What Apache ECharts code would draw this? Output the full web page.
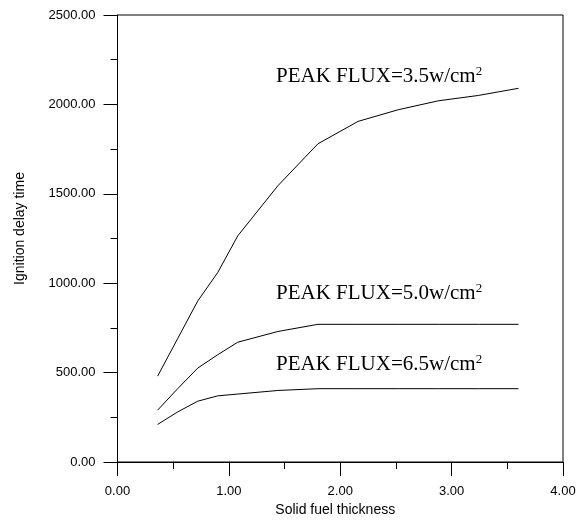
<!DOCTYPE html>
<html>
<head>
<meta charset="utf-8">
<script src="https://cdn.jsdelivr.net/npm/echarts@6/dist/echarts.min.js"></script>
<style>
html,body{margin:0;padding:0;background:#fff;}
#chart{width:579px;height:524px;}
</style>
</head>
<body>
<div id="chart"></div>
<script>
var thickness = [0.36, 0.54, 0.72, 0.90, 1.08, 1.44, 1.80, 2.16, 2.52, 2.88, 3.24, 3.60];
var flux35 = [480, 690, 900, 1060, 1265, 1545, 1780, 1905, 1970, 2020, 2050, 2090];
var flux50 = [290, 410, 525, 600, 670, 730, 770, 770, 770, 770, 770, 770];
var flux65 = [210, 280, 340, 370, 380, 400, 410, 410, 410, 410, 410, 410];
var seriesNames = ['PEAK FLUX=3.5w/cm', 'PEAK FLUX=5.0w/cm', 'PEAK FLUX=6.5w/cm'];
var xTitle = 'Solid fuel thickness';
var yTitle = 'Ignition delay time';

function pairs(ys){ return thickness.map(function(x,i){ return [x, ys[i]]; }); }

var chart = echarts.init(document.getElementById('chart'), null, {renderer:'canvas'});
var axisFont = {color:'#000', fontFamily:'Liberation Sans, Arial, sans-serif', fontSize:13};
function lineSeries(name, ys){
  return {name:name, type:'line', data:pairs(ys), showSymbol:false, symbol:'none',
    lineStyle:{color:'#000', width:1}, itemStyle:{color:'#000'}, animation:false};
}
function labelText(name, x, y){
  return {type:'text', left:x, top:y, style:{
    text:'{b|' + name + '}{s|2}',
    rich:{
      b:{fontFamily:'Liberation Serif, Times New Roman, serif', fontSize:21, fill:'#000', lineHeight:22},
      s:{fontFamily:'Liberation Serif, Times New Roman, serif', fontSize:13, fill:'#000', verticalAlign:'top', lineHeight:13}
    }
  }};
}
chart.setOption({
  animation:false,
  backgroundColor:'#fff',
  grid:{left:117.5, right:16, top:15, bottom:62, show:true, borderColor:'#000', borderWidth:1},
  xAxis:{type:'value', min:0, max:4, interval:1,
    name:xTitle, nameLocation:'middle', nameGap:40,
    nameTextStyle:{color:'#000', fontFamily:'Liberation Sans, Arial, sans-serif', fontSize:14, padding:[0,10,0,0]},
    axisLine:{show:true, onZero:false, lineStyle:{color:'#000', width:1}},
    axisTick:{show:true, inside:false, length:14, lineStyle:{color:'#000'}},
    minorTick:{show:true, splitNumber:2, length:7, lineStyle:{color:'#000'}},
    splitLine:{show:false},
    axisLabel:Object.assign({margin:23, formatter:function(v){return v.toFixed(2);}}, axisFont)
  },
  yAxis:{type:'value', min:0, max:2500, interval:500,
    name:yTitle, nameLocation:'middle', nameGap:90,
    nameTextStyle:{color:'#000', fontFamily:'Liberation Sans, Arial, sans-serif', fontSize:14, padding:[0,0,0,20]},
    axisLine:{show:true, onZero:false, lineStyle:{color:'#000', width:1}},
    axisTick:{show:true, inside:false, length:14, lineStyle:{color:'#000'}},
    minorTick:{show:true, splitNumber:2, length:7, lineStyle:{color:'#000'}},
    splitLine:{show:false},
    axisLabel:Object.assign({margin:22, formatter:function(v){return v.toFixed(2);}}, axisFont)
  },
  series:[lineSeries(seriesNames[0], flux35), lineSeries(seriesNames[1], flux50), lineSeries(seriesNames[2], flux65)],
  graphic:[
    labelText(seriesNames[0], 276, 65),
    labelText(seriesNames[1], 276, 282),
    labelText(seriesNames[2], 276, 353)
  ]
});
</script>
</body>
</html>
